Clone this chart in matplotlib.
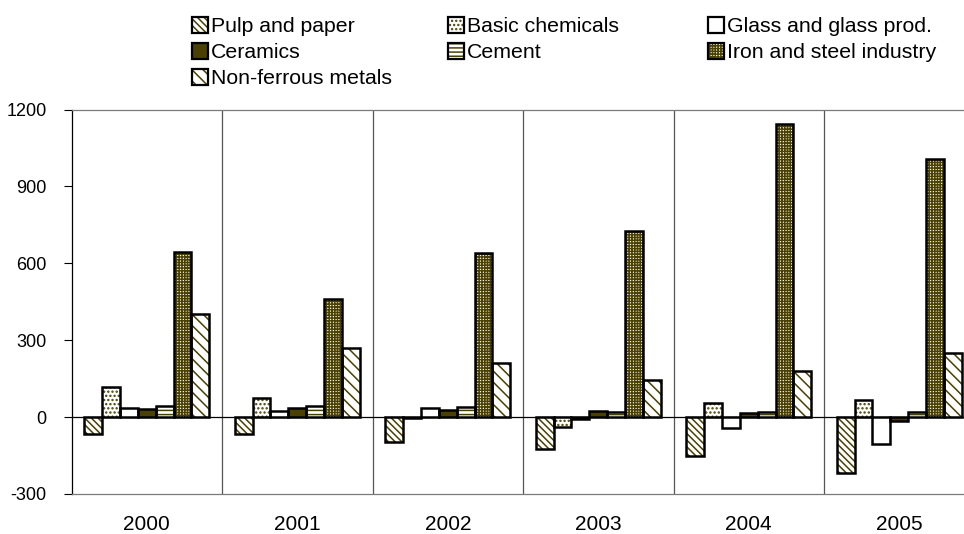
import matplotlib
matplotlib.use("Agg")
import matplotlib.pyplot as plt
from matplotlib.patches import Patch
from matplotlib.legend_handler import HandlerTuple
import numpy as np

plt.rcParams['font.family'] = ['Liberation Sans', 'DejaVu Sans']
plt.rcParams['hatch.linewidth'] = 1.1

years = ["2000", "2001", "2002", "2003", "2004", "2005"]
series_names = ["Pulp and paper", "Basic chemicals", "Glass and glass prod.",
                "Ceramics", "Cement", "Iron and steel industry", "Non-ferrous metals"]
pulp = [-64, -67, -97, -126, -152, -219]
basic = [116, 75, -3, -38, 55, 67]
glass = [34, 23, 34, -9, -43, -106]
ceramics = [30, 34, 27, 23, 16, -14]
cement = [44, 42, 38, 21, 18, 18]
iron = [644, 462, 639, 726, 1142, 1005]
nonferrous = [402, 268, 210, 146, 180, 250]
yticks = [-300, 0, 300, 600, 900, 1200]

values = [pulp, basic, glass, ceramics, cement, iron, nonferrous]
OLIVE = "#4a4000"
faces = ["white", "white", "white", OLIVE, "white", "white", "white"]
hatches = ["\\\\\\\\\\", "....", None, None, "----", "++++++", "\\\\\\"]

W, H = 964, 534
fig = plt.figure(figsize=(W / 100, H / 100), dpi=100)
ax = fig.add_axes([71.5 / W, (H - 494) / H, 903 / W, 384.5 / H])

x = np.arange(len(years))
bw = 0.1187
handles = []
for i, (vals, fc, ht) in enumerate(zip(values, faces, hatches)):
    pos = x + (i - 3) * bw
    ax.bar(pos, vals, width=bw, facecolor=fc, hatch=ht, edgecolor=OLIVE,
           linewidth=0, zorder=3)
    ax.bar(pos, vals, width=bw, facecolor="none", edgecolor="black",
           linewidth=1.8, zorder=4)
    h1 = Patch(facecolor=fc, hatch=ht, edgecolor=OLIVE, linewidth=0)
    h2 = Patch(facecolor="none", edgecolor="black", linewidth=1.6)
    handles.append((h1, h2))

ax.set_xlim(-0.5, 5.5)
ax.set_ylim(-300, 1200)
ax.set_yticks(yticks)
ax.set_yticklabels([str(v) for v in yticks])
ax.set_xticks(x)
ax.set_xticklabels(years)
ax.tick_params(axis='x', length=0, pad=15, labelsize=15)
ax.tick_params(axis='y', length=6, width=0.8, direction='out', pad=12, labelsize=13)

ax.spines["right"].set_visible(False)
ax.spines["left"].set_color("black")
ax.spines["left"].set_linewidth(0.9)
ax.spines["top"].set_color("#7a7a7a")
ax.spines["bottom"].set_color("#7a7a7a")
ax.spines["top"].set_linewidth(0.9)
ax.spines["bottom"].set_linewidth(0.9)
for b in np.arange(0.5, 5.5, 1.0):
    ax.axvline(b, color="#555555", linewidth=0.9, zorder=1)
ax.axhline(0, color="black", linewidth=0.9, zorder=2)

order_cols = [[0, 3, 6], [1, 4], [2, 5]]
col_x = [192, 448, 708]
for cols, cx in zip(order_cols, col_x):
    fig.legend([handles[k] for k in cols], [series_names[k] for k in cols],
               handler_map={tuple: HandlerTuple(ndivide=1, pad=0)},
               loc="upper left", bbox_to_anchor=(cx / W, 1 - 17 / H),
               frameon=False, fontsize=15.3, borderpad=0, borderaxespad=0,
               handlelength=0.75, handleheight=0.75, handletextpad=0.15,
               labelspacing=0.32)

fig.savefig("out.png", dpi=100)
